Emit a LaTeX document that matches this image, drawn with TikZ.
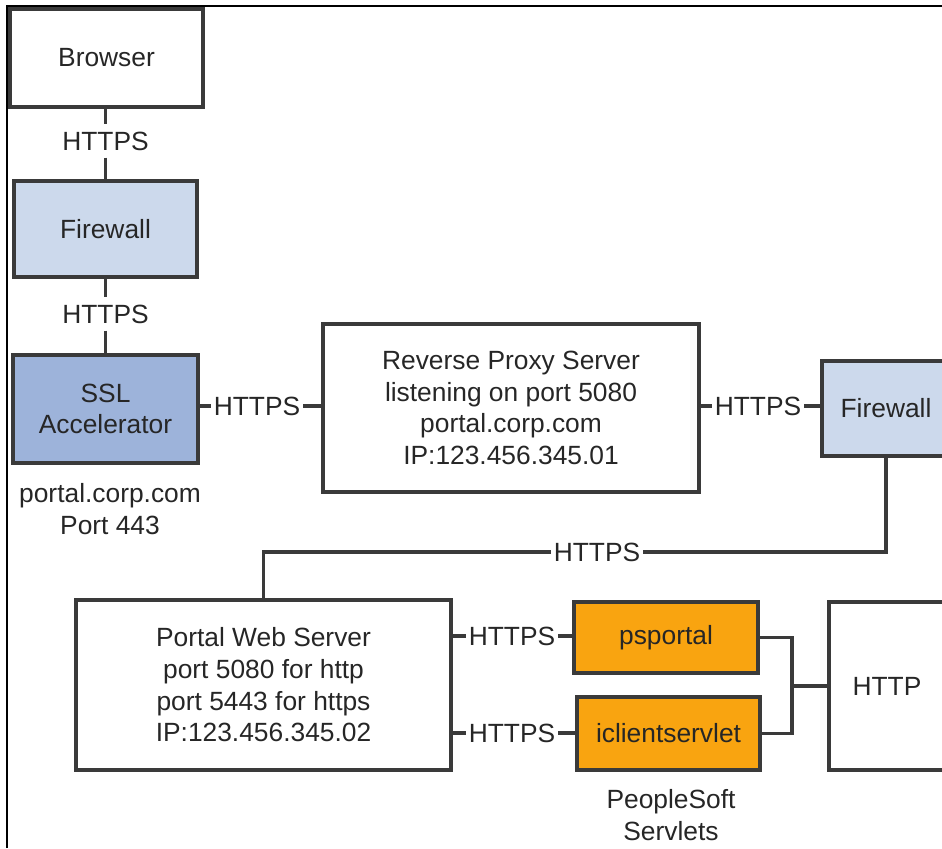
\documentclass[tikz,border=0pt]{standalone}
\usepackage{fontspec}
\setmainfont{Liberation Sans}
\usepackage{tikz}
\usetikzlibrary{calc}
\definecolor{fwblue}{HTML}{CCD9EC}
\definecolor{sslblue}{HTML}{9DB3DA}
\definecolor{srvorange}{HTML}{F9A410}
\definecolor{edgegray}{HTML}{3A3A3A}

\begin{document}
\begin{tikzpicture}[x=0.02cm,y=-0.02cm,line join=miter,
  box/.style={draw=edgegray,line width=1.9pt,align=center,inner sep=0pt,
    text=black!85,font=\fontsize{15}{18}\selectfont},
  proto/.style={inner sep=1.5pt,text=black!85,font=\fontsize{15}{18}\selectfont},
  note/.style={align=center,text=black!85,font=\fontsize{15}{18}\selectfont},
  link/.style={draw=edgegray,line width=1.8pt}]
  \useasboundingbox (0,0) rectangle (942,848);
  \clip (0,0) rectangle (942,848);
  \draw[line width=0.8pt] (7,848) -- (7,6) -- (942,6);
  \node[box,minimum width=3.86cm,minimum height=1.96cm] (browser) at (106.5,58) {Browser};
  \node[box,fill=fwblue,minimum width=3.66cm,minimum height=1.92cm] (fwa) at (105.5,229) {Firewall};
  \node[box,fill=sslblue,minimum width=3.70cm,minimum height=2.16cm] (ssl) at (105.5,409) {SSL\\Accelerator};
  \node[note] (sslinfo) at (110,509) {portal.corp.com\\Port 443};
  \node[box,minimum width=7.52cm,minimum height=3.36cm] (proxy) at (511,408) {Reverse Proxy Server\\listening on port 5080\\portal.corp.com\\IP:123.456.345.01};
  \node[box,fill=fwblue,minimum width=2.56cm,minimum height=1.90cm] (fwb) at (886,408.5) {Firewall};
  \node[box,minimum width=7.50cm,minimum height=3.40cm] (pws) at (263.5,685) {Portal Web Server\\port 5080 for http\\port 5443 for https\\IP:123.456.345.02};
  \node[box,fill=srvorange,minimum width=3.68cm,minimum height=1.42cm] (psportal) at (666,637.5) {psportal};
  \node[box,fill=srvorange,minimum width=3.66cm,minimum height=1.46cm] (iclient) at (668.5,733.5) {iclientservlet};
  \node[box,minimum width=2.32cm,minimum height=3.36cm] (http) at (887,686) {HTTP};
  \node[note] (srvinfo) at (671,815) {PeopleSoft\\Servlets};
  \node[proto,inner sep=4pt] (pa) at (105.5,141) {HTTPS};
  \node[proto,inner sep=4pt] (pb) at (105.5,314) {HTTPS};
  \node[proto] (pc) at (257,406) {HTTPS};
  \node[proto] (pd) at (758,406) {HTTPS};
  \node[proto] (pe) at (597,552) {HTTPS};
  \node[proto] (pf) at (512,636) {HTTPS};
  \node[proto] (pg) at (512,733) {HTTPS};
  \coordinate (join) at (792,686);
  \draw[link] (pa |- browser.south) -- (pa) -- (pa |- fwa.north);
  \draw[link] (pb |- fwa.south) -- (pb) -- (pb |- ssl.north);
  \draw[link] (ssl.east |- pc) -- (pc) -- (proxy.west |- pc);
  \draw[link] (proxy.east |- pd) -- (pd) -- (fwb.west |- pd);
  \draw[link] (fwb.south) |- (pe.east);
  \draw[link] (pe.west) -| (pws.north);
  \draw[link] (pws.east |- pf) -- (pf) -- (psportal.west |- pf);
  \draw[link] (pws.east |- pg) -- (pg) -- (iclient.west |- pg);
  \draw[link] (psportal.east) -| (join) -- (http.west |- join);
  \draw[link] (iclient.east) -| (join);
\end{tikzpicture}
\end{document}
